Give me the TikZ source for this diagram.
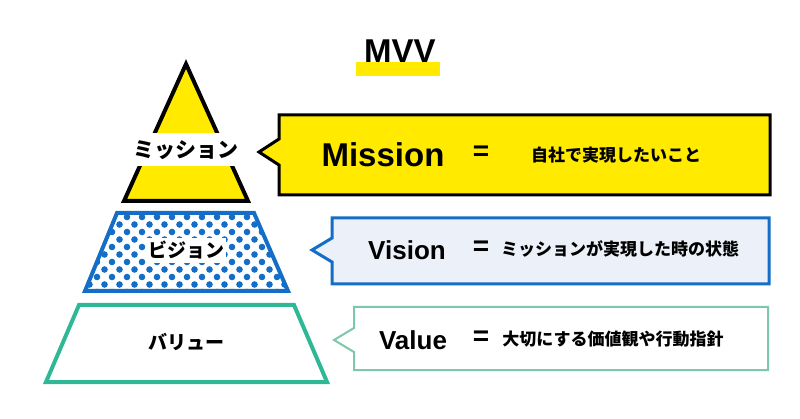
\documentclass[tikz,border=0pt]{standalone}
\usepackage{fontspec}
\setmainfont{Liberation Sans}
\newfontfamily\jp{Noto Sans CJK JP}
\begin{document}
\begin{tikzpicture}[x=1pt,y=-1pt,
  lat/.style={font=\fontsize{#1}{#1}\selectfont\bfseries},
  jpl/.style={font=\jp\fontsize{#1}{#1}\selectfont\bfseries},
  lw/.style={line width=#1}]
\definecolor{myyel}{RGB}{255,234,0}
\definecolor{myblue}{RGB}{20,110,200}
\definecolor{mygreen}{RGB}{46,184,150}
\definecolor{mylgreen}{RGB}{125,200,170}
\definecolor{mylblue}{RGB}{236,240,248}
\useasboundingbox (0,0) rectangle (800,419);
% title
\fill[myyel] (356,62) rectangle (440,76);
\node[lat=33] (title) at (400,51) {MVV};
% mission triangle
\draw[lw=4,fill=myyel,line join=miter] (186,64) -- (248,201) -- (124,201) -- cycle;
\fill[white] (100,133) rectangle (270,166);
\node[jpl=21] (mi) at (186,150) {ミッション};
% vision trapezoid
\begin{scope}
\clip (117,213) -- (254,213) -- (288,291) -- (85,291) -- cycle;
\foreach \r in {0,...,10}{
  \pgfmathsetmacro{\yy}{217+\r*7.5}
  \pgfmathsetmacro{\off}{mod(\r,2)*7.5}
  \foreach \c in {0,...,14}{
    \fill[myblue] (82+\off+\c*15,\yy) circle (3.3);
  }}
\end{scope}
\fill[white] (146,238) rectangle (226,263);
\draw[myblue,lw=4] (117,213) -- (254,213) -- (288,291) -- (85,291) -- cycle;
\node[jpl=19] (vi) at (186,250) {ビジョン};
% value trapezoid
\draw[mygreen,lw=4] (79,305) -- (294,305) -- (327,382) -- (46,382) -- cycle;
\node[jpl=19] (va) at (186,342) {バリュー};
% mission callout
\draw[lw=3,fill=myyel] (279,115) -- (770,115) -- (770,195) -- (279,195) -- (279,165) -- (259,152) -- (279,139) -- cycle;
\node[lat=33] (mm) at (383,155) {Mission};
\node[lat=28] (me) at (481,153) {=};
\node[jpl=17] (mt) at (616,155) {自社で実現したいこと};
% vision callout
\draw[myblue,lw=3,fill=mylblue] (332,218) -- (769,218) -- (769,284) -- (332,284) -- (332,262) -- (312,250) -- (332,238) -- cycle;
\node[lat=26] (vm) at (407,250) {Vision};
\node[lat=28] (ve) at (481,248) {=};
\node[jpl=17] (vt) at (620,249) {ミッションが実現した時の状態};
% value callout
\draw[mylgreen,lw=2] (354,307) -- (768,307) -- (768,370) -- (354,370) -- (354,352) -- (334,340) -- (354,328) -- cycle;
\node[lat=26] (um) at (413,340) {Value};
\node[lat=28] (ue) at (481,338) {=};
\node[jpl=17] (ut) at (613,339) {大切にする価値観や行動指針};
\end{tikzpicture}
\end{document}
